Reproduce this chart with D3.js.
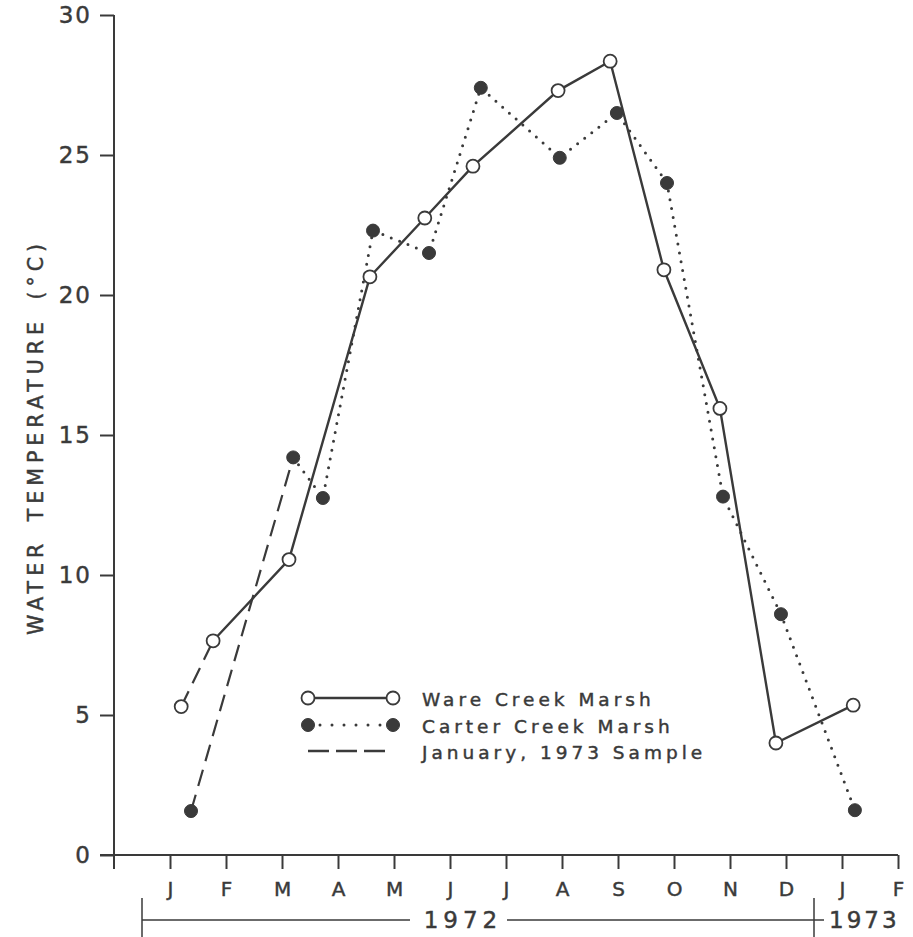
<!DOCTYPE html>
<html>
<head>
<meta charset="utf-8">
<script src="https://cdn.jsdelivr.net/npm/d3@7"></script>
<style>
  html, body { margin: 0; padding: 0; background: #fff; }
  svg { display: block; }
  text { font-family: "DejaVu Sans", sans-serif; fill: #3a3a3a; stroke: #3a3a3a; stroke-width: 0.45px; }
</style>
</head>
<body>
<svg id="chart" width="913" height="937"></svg>
<script>
// ---- Data ----
const monthLabels = ["J","F","M","A","M","J","J","A","S","O","N","D","J","F"];
const yTickValues = [0, 5, 10, 15, 20, 25, 30];
const yearLabels = ["1972", "1973"];

// Ware Creek Marsh (open circles, solid line); x = month position (Jan 1972 = 1)
const wareMonth = [1.77, 3.125, 4.57, 5.55, 6.41, 7.93, 8.86, 9.82, 10.82, 11.82, 13.2];
const wareTemp  = [7.65, 10.55, 20.65, 22.75, 24.6, 27.3, 28.35, 20.9, 15.95, 4.0, 5.35];

// Carter Creek Marsh (filled circles, dotted line)
const carterMonth = [3.2, 3.73, 4.625, 5.625, 6.55, 7.96, 8.98, 9.875, 10.875, 11.91, 13.23];
const carterTemp  = [14.2, 12.75, 22.3, 21.5, 27.4, 24.9, 26.5, 24.0, 12.8, 8.6, 1.6];

// January, 1973 sample re-plotted at the start of the year (dashed)
const janWareMonth = [1.2];
const janWareTemp = [5.3];
const janCarterMonth = [1.375];
const janCarterTemp = [1.57];

const legendLabels = ["Ware Creek Marsh", "Carter Creek Marsh", "January, 1973 Sample"];

// ---- Chart ----
const ink = "#3a3a3a";
const svg = d3.select("#chart");
const x = d3.scaleLinear().domain([0, 14]).range([114, 898]);
const y = d3.scaleLinear().domain([0, 30]).range([855, 15]);

const ware = wareMonth.map((m, i) => [m, wareTemp[i]]);
const carter = carterMonth.map((m, i) => [m, carterTemp[i]]);
const janWare = [[janWareMonth[0], janWareTemp[0]], ware[0]];
const janCarter = [[janCarterMonth[0], janCarterTemp[0]], carter[0]];

const line = d3.line().x(d => x(d[0])).y(d => y(d[1]));

// Y axis
const yAxis = d3.axisLeft(y).tickValues(yTickValues).tickSize(14).tickPadding(8);
const gy = svg.append("g").attr("transform", `translate(${x(0)},0)`).call(yAxis);
gy.select(".domain").remove();
gy.selectAll(".tick line").attr("stroke", ink).attr("stroke-width", 2);
gy.selectAll(".tick text").attr("font-size", 23).attr("letter-spacing", 2)
  .attr("fill", ink).attr("font-family", "DejaVu Sans, sans-serif");
svg.append("line").attr("x1", x(0)).attr("x2", x(0)).attr("y1", y(30)).attr("y2", y(0) + 14)
  .attr("stroke", ink).attr("stroke-width", 2);

// X axis
const xAxis = d3.axisBottom(x).tickValues(d3.range(1, 15)).tickSize(14).tickPadding(13)
  .tickFormat(d => monthLabels[d - 1]);
const gx = svg.append("g").attr("transform", `translate(0,${y(0)})`).call(xAxis);
gx.select(".domain").remove();
gx.selectAll(".tick line").attr("stroke", ink).attr("stroke-width", 2);
gx.selectAll(".tick text").attr("font-size", 20).attr("fill", ink)
  .attr("font-family", "DejaVu Sans, sans-serif");
svg.append("line").attr("x1", x(0) - 14).attr("x2", x(14)).attr("y1", y(0)).attr("y2", y(0))
  .attr("stroke", ink).attr("stroke-width", 2);

// Year bracket
const yearY = 920;
const yr1Start = x(0.5), yr1End = x(12.5);
svg.append("line").attr("x1", yr1Start).attr("x2", yr1Start).attr("y1", 898).attr("y2", 937).attr("stroke", ink).attr("stroke-width", 1.5);
svg.append("line").attr("x1", yr1End).attr("x2", yr1End).attr("y1", 898).attr("y2", 937).attr("stroke", ink).attr("stroke-width", 1.5);
svg.append("line").attr("x1", yr1Start).attr("x2", 410).attr("y1", yearY).attr("y2", yearY).attr("stroke", ink).attr("stroke-width", 1.5);
svg.append("line").attr("x1", 507).attr("x2", yr1End + 10).attr("y1", yearY).attr("y2", yearY).attr("stroke", ink).attr("stroke-width", 1.5);
svg.append("text").attr("x", 463).attr("y", yearY + 8).attr("text-anchor", "middle")
  .attr("font-size", 23).attr("letter-spacing", 5).text(yearLabels[0]);
svg.append("text").attr("x", 829).attr("y", yearY + 8).attr("text-anchor", "start")
  .attr("font-size", 23).attr("letter-spacing", 3).text(yearLabels[1]);

// Y title
svg.append("text").attr("transform", "translate(43,437) rotate(-90)").attr("text-anchor", "middle")
  .attr("font-size", 20.5).attr("letter-spacing", 5).attr("word-spacing", 6)
  .text("WATER TEMPERATURE (°C)");

// Lines
svg.append("path").datum(janWare).attr("d", line).attr("fill", "none").attr("stroke", ink)
  .attr("stroke-width", 2.2).attr("stroke-dasharray", "17 9");
svg.append("path").datum(janCarter).attr("d", line).attr("fill", "none").attr("stroke", ink)
  .attr("stroke-width", 2.2).attr("stroke-dasharray", "17 9");
svg.append("path").datum(carter).attr("d", line).attr("fill", "none").attr("stroke", ink)
  .attr("stroke-width", 3).attr("stroke-linecap", "round").attr("stroke-dasharray", "0 9");
svg.append("path").datum(ware).attr("d", line).attr("fill", "none").attr("stroke", ink)
  .attr("stroke-width", 2.4);

// Markers
const r = 6.5;
svg.selectAll("circle.carter").data(carter.concat([[janCarterMonth[0], janCarterTemp[0]]]))
  .join("circle").attr("class", "carter").attr("cx", d => x(d[0])).attr("cy", d => y(d[1]))
  .attr("r", r).attr("fill", ink).attr("stroke", ink).attr("stroke-width", 1);
svg.selectAll("circle.ware").data(ware.concat([[janWareMonth[0], janWareTemp[0]]]))
  .join("circle").attr("class", "ware").attr("cx", d => x(d[0])).attr("cy", d => y(d[1]))
  .attr("r", r).attr("fill", "#fff").attr("stroke", ink).attr("stroke-width", 1.8);

// Legend
const lg = svg.append("g");
const lx1 = 308, lx2 = 393, textX = 422;
const rows = [698, 725, 751];
lg.append("line").attr("x1", lx1).attr("x2", lx2).attr("y1", rows[0]).attr("y2", rows[0]).attr("stroke", ink).attr("stroke-width", 2.4);
[lx1, lx2].forEach(cx => lg.append("circle").attr("cx", cx).attr("cy", rows[0]).attr("r", r).attr("fill", "#fff").attr("stroke", ink).attr("stroke-width", 1.8));
lg.append("line").attr("x1", lx1).attr("x2", lx2).attr("y1", rows[1]).attr("y2", rows[1]).attr("stroke", ink).attr("stroke-width", 3).attr("stroke-linecap", "round").attr("stroke-dasharray", "0 12");
[lx1, lx2].forEach(cx => lg.append("circle").attr("cx", cx).attr("cy", rows[1]).attr("r", r).attr("fill", ink).attr("stroke", ink));
lg.append("line").attr("x1", 308).attr("x2", 385).attr("y1", rows[2]).attr("y2", rows[2]).attr("stroke", ink).attr("stroke-width", 2.4).attr("stroke-dasharray", "21 7");
legendLabels.forEach((t, i) => {
  lg.append("text").attr("x", textX).attr("y", rows[i] + 8).attr("font-size", 18.5)
    .attr("letter-spacing", 4).text(t);
});
</script>
</body>
</html>
